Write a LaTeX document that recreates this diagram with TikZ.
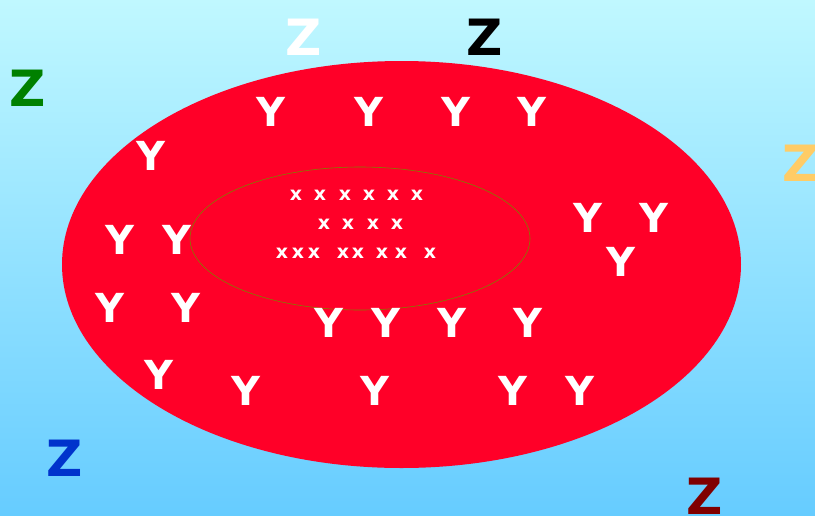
\documentclass[tikz,border=0pt]{standalone}
\usepackage{fontspec}
\setmainfont{DejaVu Sans}
\definecolor{skyT}{HTML}{C0F8FF}
\definecolor{skyB}{HTML}{66CCFF}
\definecolor{blobR}{HTML}{FF0028}
\definecolor{rimO}{HTML}{808000}
\definecolor{zG}{HTML}{008000}
\definecolor{zO}{HTML}{FFCC66}
\definecolor{zB}{HTML}{0033CC}
\definecolor{zM}{HTML}{800000}

\tikzset{
  zlet/.style={font=\fontsize{50}{50}\selectfont\bfseries,inner sep=0pt},
  ylet/.style={font=\fontsize{40}{40}\selectfont\bfseries,text=white,inner sep=0pt},
  xlet/.style={font=\fontsize{19}{19}\selectfont\bfseries,text=white,inner sep=0pt}
}

\begin{document}
\begin{tikzpicture}[x=1pt,y=-1pt]

  \useasboundingbox (0,0) rectangle (815,515);
  \clip (0,0) rectangle (815,515);
  \shade[top color=skyT,bottom color=skyB] (0,0) rectangle (815,515);

  % outer set and inner set
  \fill[blobR] (401.5,264.5) ellipse [x radius=339.5,y radius=203.5];
  \draw[rimO,line width=0.6pt] (360,238.5) ellipse [x radius=170,y radius=71.5];

  % letters outside
  \node[zlet,text=white] (zw) at (304,37) {Z};
  \node[zlet,text=black] (zk) at (485,37) {Z};
  \node[zlet,text=zG]    (zg) at (28,88)  {Z};
  \node[zlet,text=zO]    (zo) at (801,163) {Z};
  \node[zlet,text=zB]    (zb) at (65,458) {Z};
  \node[zlet,text=zM]    (zm) at (705,496) {Z};

  % letters in the red set
  \foreach \px/\py [count=\i] in {271/112,369/112,456/112,532/112,151/156,
      120/240,177/240,588/218,654/218,621/262,110/308,186/308,
      329/323,386/323,452/323,528/323,159/375,246/391,375/391,513/391,580/391}
    \node[ylet] (y\i) at (\px,\py) {Y};

  % letters in the inner set
  \foreach \px/\py [count=\i] in {296/195,320/195,345/195,369/195,393/195,417/195,
      324/224,348/224,373/224,397/224,
      282/253,298/253,314/253,343/253,358/253,382/253,401/253,430/253}
    \node[xlet] (x\i) at (\px,\py) {x};

\end{tikzpicture}
\end{document}
